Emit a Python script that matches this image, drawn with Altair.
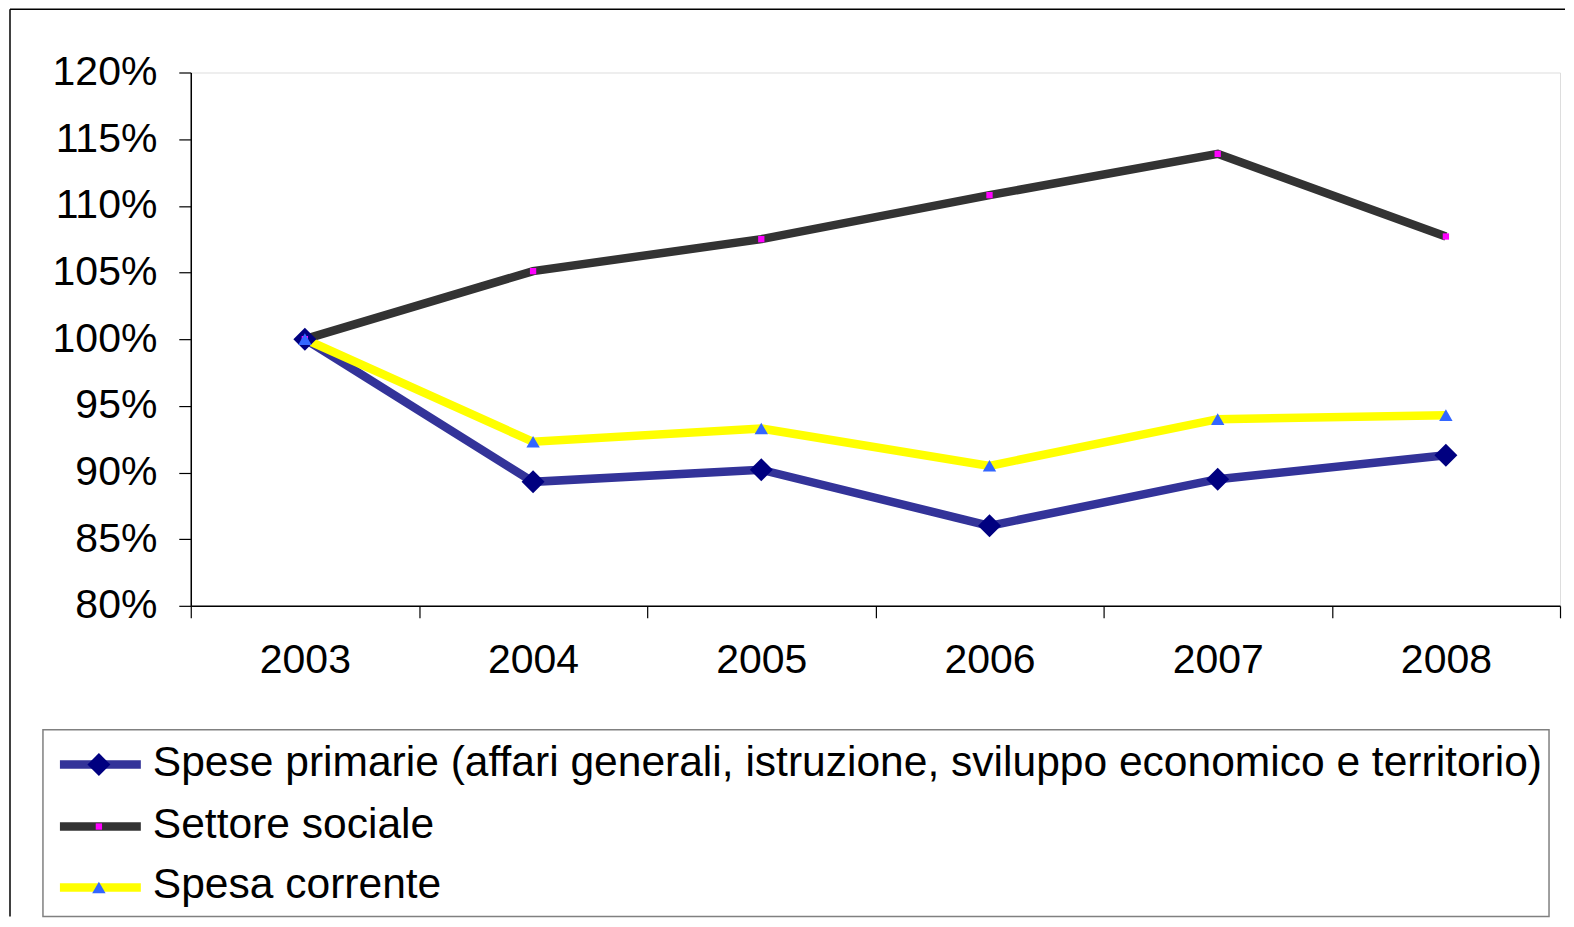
import altair as alt
import pandas as pd

years = ["2003", "2004", "2005", "2006", "2007", "2008"]
series_names = [
    "Spese primarie (affari generali, istruzione, sviluppo economico e territorio)",
    "Settore sociale",
    "Spesa corrente",
]
spese_primarie = [100.0, 89.3, 90.2, 86.0, 89.5, 91.3]
settore_sociale = [100.0, 105.1, 107.5, 110.8, 113.9, 107.7]
spesa_corrente = [100.0, 92.3, 93.3, 90.5, 94.0, 94.3]
y_ticks = [80, 85, 90, 95, 100, 105, 110, 115, 120]

values_by_series = [spese_primarie, settore_sociale, spesa_corrente]
line_colors = ["#333399", "#333333", "#FFFF00"]
marker_colors = ["#000080", "#FF00FF", "#3366FF"]
marker_shapes = ["diamond", "square", "triangle-up"]
marker_sizes = [530, 40, 180]

FONT = "Liberation Sans"
W, H = 1371, 534

frames = []
for name, vals in zip(series_names, values_by_series):
    frames.append(pd.DataFrame({"year": years, "value": vals, "series": name}))

x_enc = alt.X(
    "year:O",
    sort=years,
    bandPosition=0.5,
    scale=alt.Scale(type="band", paddingInner=0, paddingOuter=0),
    axis=alt.Axis(
        title=None, labelAngle=0, tickBand="extent", tickSize=12,
        labelFontSize=41, labelFont=FONT, labelColor="black",
        labelPadding=23, domainColor="black", domainWidth=1.5,
        tickColor="black", tickWidth=1.2, grid=False,
    ),
)
y_enc = alt.Y(
    "value:Q",
    scale=alt.Scale(domain=[80, 120], nice=False, zero=False),
    axis=alt.Axis(
        title=None, values=y_ticks, labelExpr="datum.value + '%'",
        tickSize=12, labelFontSize=41, labelFont=FONT, labelColor="black",
        labelPadding=22, domainColor="black", domainWidth=1.5,
        tickColor="black", tickWidth=1.2, grid=False,
    ),
)

layers = []
for df, lc in zip(frames, line_colors):
    layers.append(
        alt.Chart(df).mark_line(color=lc, strokeWidth=8.5).encode(x=x_enc, y=y_enc)
    )
for df, mc, ms, sz in zip(frames, marker_colors, marker_shapes, marker_sizes):
    layers.append(
        alt.Chart(df).mark_point(shape=ms, size=sz, filled=True, color=mc, opacity=1)
        .encode(x=x_enc, y=y_enc)
    )

one = pd.DataFrame({"a": [0]})

# outer frame (left and top edges)
layers.append(
    alt.Chart(one).mark_rule(color="black", strokeWidth=1.5).encode(
        x=alt.value(-181), y=alt.value(-63.25), y2=alt.value(845)
    )
)
layers.append(
    alt.Chart(one).mark_rule(color="black", strokeWidth=1.5).encode(
        x=alt.value(-181), x2=alt.value(1376), y=alt.value(-63.25)
    )
)

# legend box
layers.append(
    alt.Chart(one).mark_rect(filled=False, color="#808080", strokeWidth=1.5).encode(
        x=alt.value(-148), x2=alt.value(1360), y=alt.value(658), y2=alt.value(845)
    )
)

row_y = [693, 755, 816]
for name, lc, mc, ms, sz, ry in zip(series_names, line_colors, marker_colors,
                                     marker_shapes, marker_sizes, row_y):
    ldf = pd.DataFrame({"series": [name]})
    layers.append(
        alt.Chart(ldf).mark_rule(color=lc, strokeWidth=8.5).encode(
            x=alt.value(-131), x2=alt.value(-50), y=alt.value(ry)
        )
    )
    layers.append(
        alt.Chart(ldf).mark_point(shape=ms, size=sz, filled=True, color=mc, opacity=1).encode(
            x=alt.value(-92), y=alt.value(ry)
        )
    )
    layers.append(
        alt.Chart(ldf).mark_text(
            align="left", baseline="alphabetic", font=FONT, fontSize=42.6, color="black"
        ).encode(x=alt.value(-38), y=alt.value(ry + 11), text="series:N")
    )

chart = (
    alt.layer(*layers)
    .properties(width=W, height=H, padding={"left": 1, "top": 0, "right": 0, "bottom": 0})
    .configure_view(stroke="#888888", strokeWidth=2.5)
    .configure(background="white")
)

chart.save("out.html", embed_options={"renderer": "svg", "actions": False})
